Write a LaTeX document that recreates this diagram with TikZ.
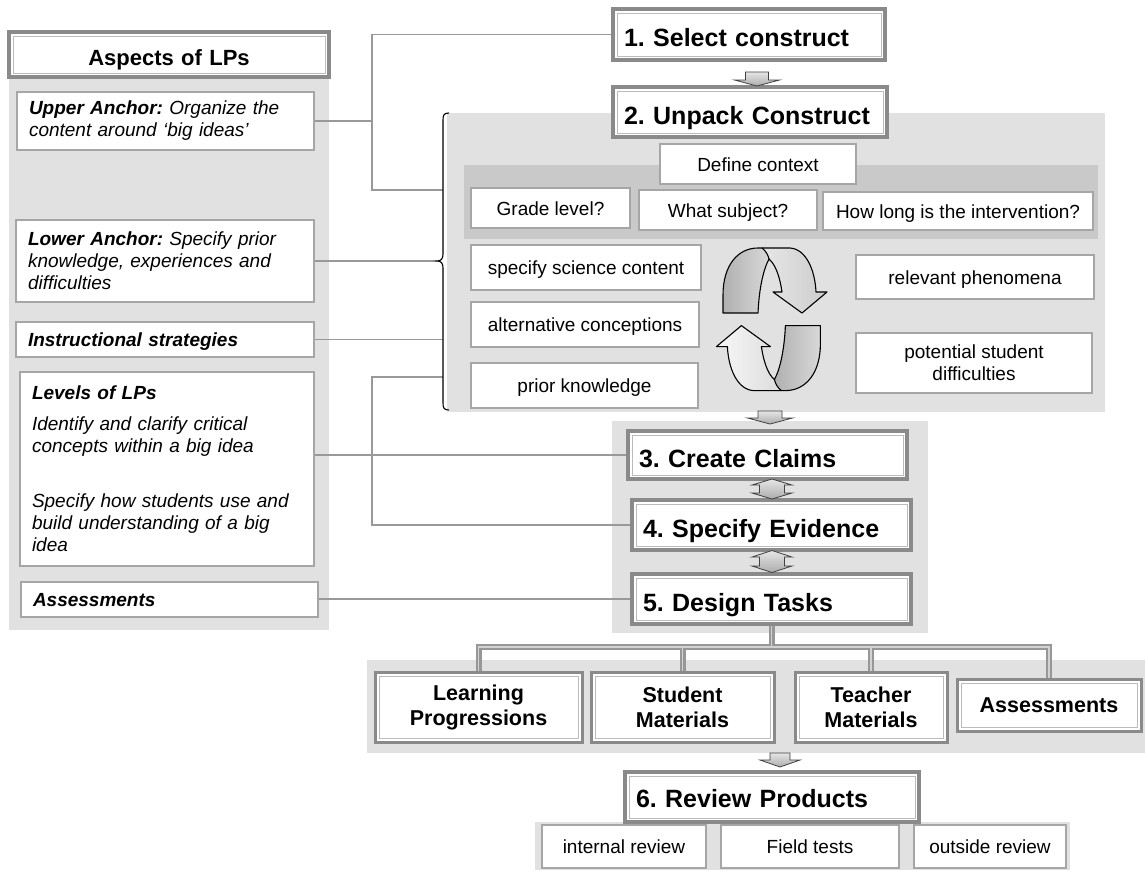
\documentclass[tikz,border=0pt]{standalone}
\usepackage{fontspec}
\setmainfont{Liberation Sans}
\usetikzlibrary{calc}
\frenchspacing
\hyphenpenalty=10000
\exhyphenpenalty=10000
\definecolor{panelC}{HTML}{E1E1E1}
\definecolor{bandC}{HTML}{C9C9C9}
\definecolor{frameC}{HTML}{8A8A8A}
\definecolor{innerC}{HTML}{BBBBBB}
\definecolor{boxC}{HTML}{A6A6A6}
\definecolor{lineC}{HTML}{999999}
\definecolor{treeC}{HTML}{979797}
\definecolor{treeIn}{HTML}{D2D2D2}
\tikzset{
  dframe/.style={fill=white, draw=frameC,
    path picture={\draw[innerC, line width=0.8pt]
      ([shift={(4pt,-4pt)}]path picture bounding box.north west) rectangle
      ([shift={(-4pt,4pt)}]path picture bounding box.south east);}},
  stepbox/.style={dframe, line width=3.5pt, inner xsep=11pt, inner ysep=0pt,
    align=left, text height=24pt, text depth=0pt,
    font=\bfseries\fontsize{25}{30}\selectfont},
  titlebox/.style={dframe, line width=3.5pt, inner xsep=12pt, inner ysep=0pt,
    align=center, text height=21pt, text depth=0pt,
    font=\bfseries\fontsize{22}{26}\selectfont},
  bbox/.style={dframe, line width=3pt, inner sep=0pt, align=center,
    font=\bfseries\fontsize{21.5}{25}\selectfont},
  lbox/.style={draw=boxC, fill=white, line width=2pt, inner xsep=12pt, inner ysep=0pt,
    align=left, font=\itshape\fontsize{19}{22}\selectfont},
  sbox/.style={draw=boxC, fill=white, line width=1.5pt, inner sep=0pt,
    align=center, font=\fontsize{19}{22}\selectfont},
  sline/.style={sbox, text height=14pt, text depth=0pt},
  conn/.style={draw=lineC, line width=1.2pt},
  blk/.style={top color=gray!20, bottom color=gray!65, draw=black!75, line width=0.8pt}
}
\newcommand{\blkdn}[6]{% x, ytop, shaft hw, shaft len, head hw, head len
  \shadedraw[blk] (#1-#3,#2) -- (#1+#3,#2) -- (#1+#3,#2+#4) -- (#1+#5,#2+#4) --
    (#1,#2+#4+#6) -- (#1-#5,#2+#4) -- (#1-#3,#2+#4) -- cycle;}
\newcommand{\blkud}[6]{% x, ytip, head hw, head len, shaft hw, shaft len
  \shadedraw[blk] (#1,#2) -- (#1+#3,#2+#4) -- (#1+#5,#2+#4) -- (#1+#5,#2+#4+#6) --
    (#1+#3,#2+#4+#6) -- (#1,#2+#4+#6+#4) -- (#1-#3,#2+#4+#6) -- (#1-#5,#2+#4+#6) --
    (#1-#5,#2+#4) -- (#1-#3,#2+#4) -- cycle;}
\begin{document}
\begin{tikzpicture}[x=1pt,y=-1pt]
\useasboundingbox (0,0) rectangle (1145,871);
% background panels
\fill[panelC] (9,32) rectangle (329,630);
\fill[panelC] (447,113) rectangle (1105,412);
\fill[bandC] (464,165) rectangle (1098,239);
\fill[panelC] (612,421) rectangle (928,633);
\fill[panelC] (367,660) rectangle (1145,753);
\fill[panelC] (535,822) rectangle (1070,870);

% left column
\node[titlebox, text width=296pt, minimum height=45pt] (aspects) at (169,54.5) {Aspects of LPs};
\node[lbox, text width=273pt, minimum height=58pt] (upper) at (165.5,121)
  {\textbf{Upper Anchor:} Organize the\\content around ‘big ideas’};
\node[lbox, text width=274pt, minimum height=82pt] (lower) at (165,261)
  {\textbf{Lower Anchor:} Specify prior\\knowledge, experiences and\\difficulties};
\node[lbox, text width=274pt, minimum height=35pt, text height=14pt, text depth=0pt,
  font=\bfseries\itshape\fontsize{19}{22}\selectfont] (instr) at (165,339.5) {Instructional strategies};
\node[lbox, text width=270pt, minimum height=194pt] (levels) at (167,469)
  {\textbf{Levels of LPs}\\[9pt]Identify and clarify critical\\concepts within a big idea\\[33pt]Specify how students use and\\build understanding of a big\\idea};
\node[lbox, text width=273pt, minimum height=35pt, text height=14pt, text depth=0pt,
  font=\bfseries\itshape\fontsize{19}{22}\selectfont] (assess) at (169.5,599.5) {Assessments};

% steps
\node[stepbox, text width=250pt, minimum height=51pt] (s1) at (749,34.5) {1. Select construct};
\node[stepbox, text width=252pt, minimum height=50pt] (s2) at (750,112) {2. Unpack Construct};
\node[stepbox, text width=257pt, minimum height=48pt] (s3) at (767.5,455) {3. Create Claims};
\node[stepbox, text width=257pt, minimum height=50pt] (s4) at (771.5,525) {4. Specify Evidence};
\node[stepbox, text width=257pt, minimum height=50pt] (s5) at (771.5,599) {5. Design Tasks};
\node[stepbox, text width=272pt, minimum height=50pt, text height=21pt] (s6) at (772,797) {6. Review Products};

% unpack construct contents
\node[sline, minimum width=196pt, minimum height=40pt] (ctx) at (758,164) {Define context};
\node[sline, minimum width=159pt, minimum height=40pt] (grade) at (550.5,208) {Grade level?};
\node[sline, minimum width=178pt, minimum height=40pt] (subj) at (728,210) {What subject?};
\node[sline, minimum width=270pt, minimum height=38pt] (howlong) at (958,211) {How long is the intervention?};
\node[sline, minimum width=230pt, minimum height=45pt] (sci) at (586,267.5) {specify science content};
\node[sline, minimum width=228pt, minimum height=45pt] (alt) at (585,324.5) {alternative conceptions};
\node[sline, minimum width=227pt, minimum height=45pt] (prior) at (584.5,385.5) {prior knowledge};
\node[sline, minimum width=238pt, minimum height=44pt] (phen) at (975,277) {relevant phenomena};
\node[sbox, minimum width=236pt, minimum height=60pt] (diff) at (974,363) {potential student\\difficulties};

% cycle arrows
\foreach \ang in {0,180}{
  \begin{scope}[rotate around={\ang:(771.7,319.3)}]
    \shade[left color=gray!6, right color=gray!40] (723,313) -- (723,295) .. controls (723,265) and (738,248) .. (758,248) -- (790,248) .. controls (806,249) and (815,270) .. (816,292) -- (827,292) -- (802,313) -- (773,292) -- (782,292) .. controls (780,278) and (776,265) .. (769,259) .. controls (763,270) and (759,290) .. (758,313) -- cycle;
    \shade[left color=gray!62, right color=gray!30] (723,313) -- (723,295) .. controls (723,265) and (738,248) .. (758,248) -- (762,248) .. controls (766,251) and (768,255) .. (769,259) .. controls (763,270) and (759,290) .. (758,313) -- cycle;
    \draw[line width=1.1pt, line join=round] (723,313) -- (723,295) .. controls (723,265) and (738,248) .. (758,248) -- (790,248) .. controls (806,249) and (815,270) .. (816,292) -- (827,292) -- (802,313) -- (773,292) -- (782,292) .. controls (780,278) and (776,265) .. (769,259) .. controls (763,270) and (759,290) .. (758,313) -- cycle;
    \draw[line width=1.1pt] (762,248) .. controls (766,251) and (768,255) .. (769,259);
  \end{scope}
}

% products
\node[bbox, minimum width=207pt, minimum height=70pt] (lp) at (478.5,707) {Learning\\Progressions};
\node[bbox, minimum width=183pt, minimum height=70pt] (sm) at (682.5,707) {Student\\Materials};
\node[bbox, minimum width=152pt, minimum height=70pt] (tm) at (871,707) {Teacher\\Materials};
\node[bbox, minimum width=184pt, minimum height=52pt] (as) at (1049,705) {Assessments};

% review
\node[sline, minimum width=164pt, minimum height=43pt] (ir) at (624,846.5) {internal review};
\node[sline, minimum width=178pt, minimum height=43pt] (ft) at (810,846.5) {Field tests};
\node[sline, minimum width=152pt, minimum height=43pt] (outrev) at (990,846.5) {outside review};

% thin connectors
\coordinate (btip) at (437,261);
\coordinate (bline) at (443,0);
\draw[conn] (upper.east) -- (372,121);
\draw[conn] (s1.west) -| (372,190) -- (443,190);
\draw[conn] (lower.east) -- (btip);
\draw[conn] (instr.east) -- (instr.east -| bline);
\draw[conn] (s4.west) -| (372,377) -- (443,377);
\draw[conn] (s3.west) -- (s3.west -| levels.east);
\draw[conn] (s5.west) -- (s5.west -| assess.east);

% brace
\draw[line width=1.1pt] (449,113) .. controls (444,113) and (443,115) .. (443,120) -- (443,254)
  .. controls (443,259) and (441,261) .. (btip) .. controls (441,261) and (443,263) .. (443,268)
  -- (443,403) .. controls (443,408) and (444,410) .. (449,410);

% tree connector
\coordinate (tl) at (478,647);
\foreach \lw/\tc in {6pt/treeC, 1.4pt/treeIn}{
  \draw[line width=\lw, draw=\tc] (s5.south) -- (s5.south |- tl)
    (lp.north) -- (lp.north |- tl) -- (as.north |- tl) -- (as.north)
    (sm.north) -- (sm.north |- tl) (tm.north) -- (tm.north |- tl);
}

% block arrows
\blkdn{757}{72}{11.5}{8}{22.5}{6}
\blkdn{770}{411}{12}{7}{22.5}{6}
\blkud{772}{479}{20}{6}{12.5}{8}
\blkud{772}{550.5}{20}{6.5}{12.5}{9}
\blkdn{780}{753}{10}{7}{20}{7}
\end{tikzpicture}
\end{document}
